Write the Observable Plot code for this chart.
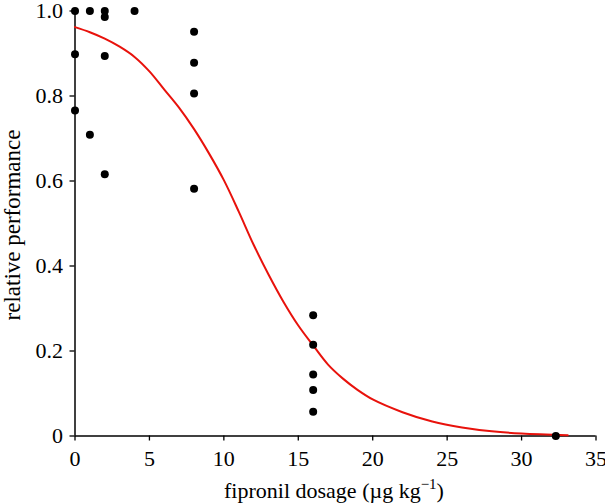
<!DOCTYPE html>
<html>
<head>
<meta charset="utf-8">
<script src="https://cdn.jsdelivr.net/npm/d3@7"></script>
<script src="https://cdn.jsdelivr.net/npm/@observablehq/plot@0.6"></script>
<style>
  html, body { margin: 0; padding: 0; background: #fff; }
  #chart svg { display: block; }
  #chart svg text { font-family: 'Liberation Serif', 'Times New Roman', serif !important; font-size: 22px !important; fill: #000 !important; }
  #chart svg text.ylab { font-size: 23px !important; }
  #chart svg tspan.sup { font-size: 15px !important; }
</style>
</head>
<body>
<div id="chart"></div>
<script>
// Observed data points: dosage (µg/kg) and relative performance
const doseX = [0, 0, 0, 1, 1, 2, 2, 2, 2, 4, 8, 8, 8, 8, 16, 16, 16, 16, 16, 32.3];
const perfY = [1.0, 0.898, 0.766, 1.0, 0.709, 1.0, 0.986, 0.894, 0.616, 1.0, 0.951, 0.878, 0.806, 0.582, 0.284, 0.215, 0.145, 0.108, 0.057, 0.0];

// Fitted curve, values
const curveX = [0, 1, 2, 3, 4, 5, 6, 7, 8, 9, 10, 11, 12, 13, 14, 15, 16, 17, 18, 19, 20, 22, 24, 26, 28, 30, 33.1];
const curveY = [0.962, 0.950, 0.935, 0.916, 0.892, 0.858, 0.815, 0.772, 0.722, 0.665, 0.602, 0.528, 0.450, 0.380, 0.316, 0.260, 0.213, 0.168, 0.135, 0.108, 0.086, 0.056, 0.034, 0.020, 0.011, 0.006, 0.002];

// Tick values
const xTicks = [0, 5, 10, 15, 20, 25, 30, 35];
const yTicks = [0, 0.2, 0.4, 0.6, 0.8, 1.0];

const points = doseX.map((x, i) => ({x, y: perfY[i]}));
const curve = curveX.map((x, i) => ({x, y: curveY[i]}));

const font = "'Liberation Serif', 'Times New Roman', serif";

const chart = Plot.plot({
  width: 605,
  height: 504,
  marginLeft: 74.5,
  marginRight: 9.5,
  marginTop: 10.5,
  marginBottom: 68.5,
  style: {fontFamily: font, fontSize: "22px", color: "#000", background: "#fff"},
  x: {domain: [0, 35]},
  y: {domain: [0, 1]},
  marks: [
    Plot.axisX({ticks: xTicks, tickSize: 5, tickPadding: 9, label: null, fontSize: 22, stroke: "#000", strokeWidth: 1.3}),
    Plot.axisY({ticks: yTicks, tickSize: 5, tickPadding: 7, label: null, fontSize: 22, tickFormat: d => d === 0 ? "0" : d.toFixed(1), stroke: "#000", strokeWidth: 1.3}),
    Plot.ruleY([0], {x1: 0, x2: 35, stroke: "#000", strokeWidth: 1.5}),
    Plot.ruleX([0], {y1: 0, y2: 1, stroke: "#000", strokeWidth: 1.5}),
    Plot.line(curve, {x: "x", y: "y", stroke: "#e8120c", strokeWidth: 2, curve: "catmull-rom"}),
    Plot.dot(points, {x: "x", y: "y", r: 4, fill: "#000", stroke: "none"})
  ]
});

const svg = d3.select(chart);

// x-axis label with superscript
const xl = svg.append("text")
  .attr("class", "xlab")
  .attr("x", 334).attr("y", 498)
  .attr("text-anchor", "middle");
xl.append("tspan").text("fipronil dosage (\u00b5g kg");
xl.append("tspan").attr("class", "sup").attr("dy", -9).text("\u22121");
xl.append("tspan").attr("dy", 9).text(")");

// y-axis label
svg.append("text")
  .attr("class", "ylab")
  .attr("transform", "translate(20,225) rotate(-90)")
  .attr("text-anchor", "middle")
  .text("relative performance");

document.getElementById("chart").appendChild(chart);
</script>
</body>
</html>
